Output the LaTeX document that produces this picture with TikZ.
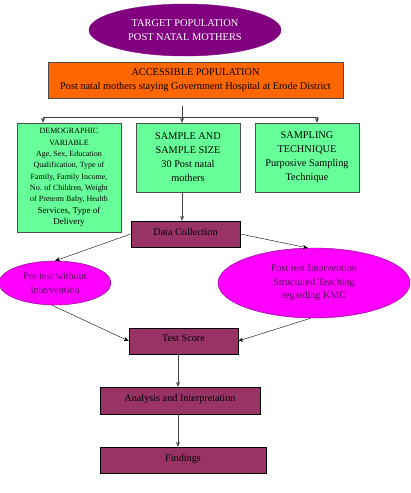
\documentclass[tikz,border=0pt]{standalone}
\usepackage{fontspec}
\setmainfont{Liberation Serif}
\usepackage{xcolor}
\usepackage{tikz}
\usetikzlibrary{arrows.meta,shapes.geometric}
\definecolor{tgtpurple}{HTML}{800080}
\definecolor{ovaltext}{HTML}{5A005A}
\definecolor{accorange}{HTML}{FF6600}
\definecolor{varigreen}{HTML}{66FF99}
\definecolor{stagered}{HTML}{993366}
\definecolor{testpink}{HTML}{FF00FF}

\begin{document}
\begin{tikzpicture}[x=1pt,y=-1pt,>={Stealth[length=5pt,width=4pt]},
  box/.style={draw,rectangle,inner sep=0pt,align=center},
  greenbox/.style={box,draw=black!70,fill=varigreen,minimum width=104pt},
  stagebox/.style={box,fill=stagered,minimum height=26pt,
    font=\fontsize{10.2}{12}\selectfont,text depth=5pt},
  testoval/.style={ellipse,draw=tgtpurple,fill=testpink,inner sep=0pt,
    text=ovaltext,align=center,font=\fontsize{10.1}{13.5}\selectfont},
  line/.style={draw=black!75,line width=0.7pt}]
\useasboundingbox(0,0)rectangle(410,493);
% target and accessible population
\node[ellipse,draw=tgtpurple,fill=tgtpurple,text=white,align=center,inner sep=0pt,
  minimum width=192pt,minimum height=52pt,font=\fontsize{10.4}{13.5}\selectfont]
  (target) at (185,30) {TARGET POPULATION\\POST NATAL MOTHERS};
\node[box,draw=black!70,fill=accorange,minimum width=295pt,minimum height=36pt,
  font=\fontsize{10.3}{14}\selectfont]
  (access) at (195.5,80) {ACCESSIBLE POPULATION\\Post natal mothers staying Government Hospital at Erode District};
% the three green boxes
\node[greenbox,minimum height=109pt,font=\fontsize{8}{11.3}\selectfont]
  (demo) at (69,177.5) {DEMOGRAPHIC\\VARIABLE\\Age, Sex, Education\\Qualification, Type of\\
  Family, Family Income,\\No. of Children, Weight\\of Preterm Baby, Health\\
  {\fontsize{9}{12}\selectfont Services, Type of}\\{\fontsize{9}{12}\selectfont Delivery}};
\node[greenbox,minimum height=69pt,font=\fontsize{10.3}{14}\selectfont]
  (sample) at (188,157.5) {SAMPLE AND\\SAMPLE SIZE\\30 Post natal\\mothers};
\node[greenbox,minimum height=69pt,font=\fontsize{10.3}{14}\selectfont]
  (technique) at (307,157.5) {SAMPLING\\TECHNIQUE\\Purposive Sampling\\Technique};
% stages
\node[stagebox,minimum width=109pt](datacol) at (185.5,234) {Data Collection};
\node[testoval,minimum width=112pt,minimum height=44pt]
  (pretest) at (55,283) {Pre test without\\Intervention};
\node[testoval,minimum width=192pt,minimum height=70pt]
  (posttest) at (314,283) {Post test Intervention\\Structured Teaching\\regarding KMC};
\node[stagebox,minimum width=109pt](score) at (183.5,341) {Test Score};
\node[stagebox,minimum width=160pt,minimum height=27pt](analysis) at (180,400.5) {Analysis and Interpretation};
\node[stagebox,minimum width=166pt](findings) at (183,460) {Findings};
% branching lines
\coordinate (hs) at (182,106);
\coordinate (hc) at (182,117);
\coordinate (hl) at (43,117);
\coordinate (hr) at (317,117);
\coordinate (vx) at (178,0);
\draw[line](hs)--(hc);
\draw[line](hl)--(hr);
\draw[line,->](hl)--(hl|-demo.north);
\draw[line,->](hc)--(hc|-sample.north);
\draw[line,->](hr)--(hr|-technique.north);
\draw[line,->](sample.south-|hc)--(datacol.north-|hc);
\draw[->](datacol.west)--(pretest.north);
\draw[->](datacol.east)--(posttest.100);
\draw[->](pretest.262)--(score.west);
\draw[->](posttest.265)--(score.east);
\draw[line,->](score.south-|vx)--(analysis.north-|vx);
\draw[line,->](analysis.south-|vx)--(findings.north-|vx);
\end{tikzpicture}
\end{document}
